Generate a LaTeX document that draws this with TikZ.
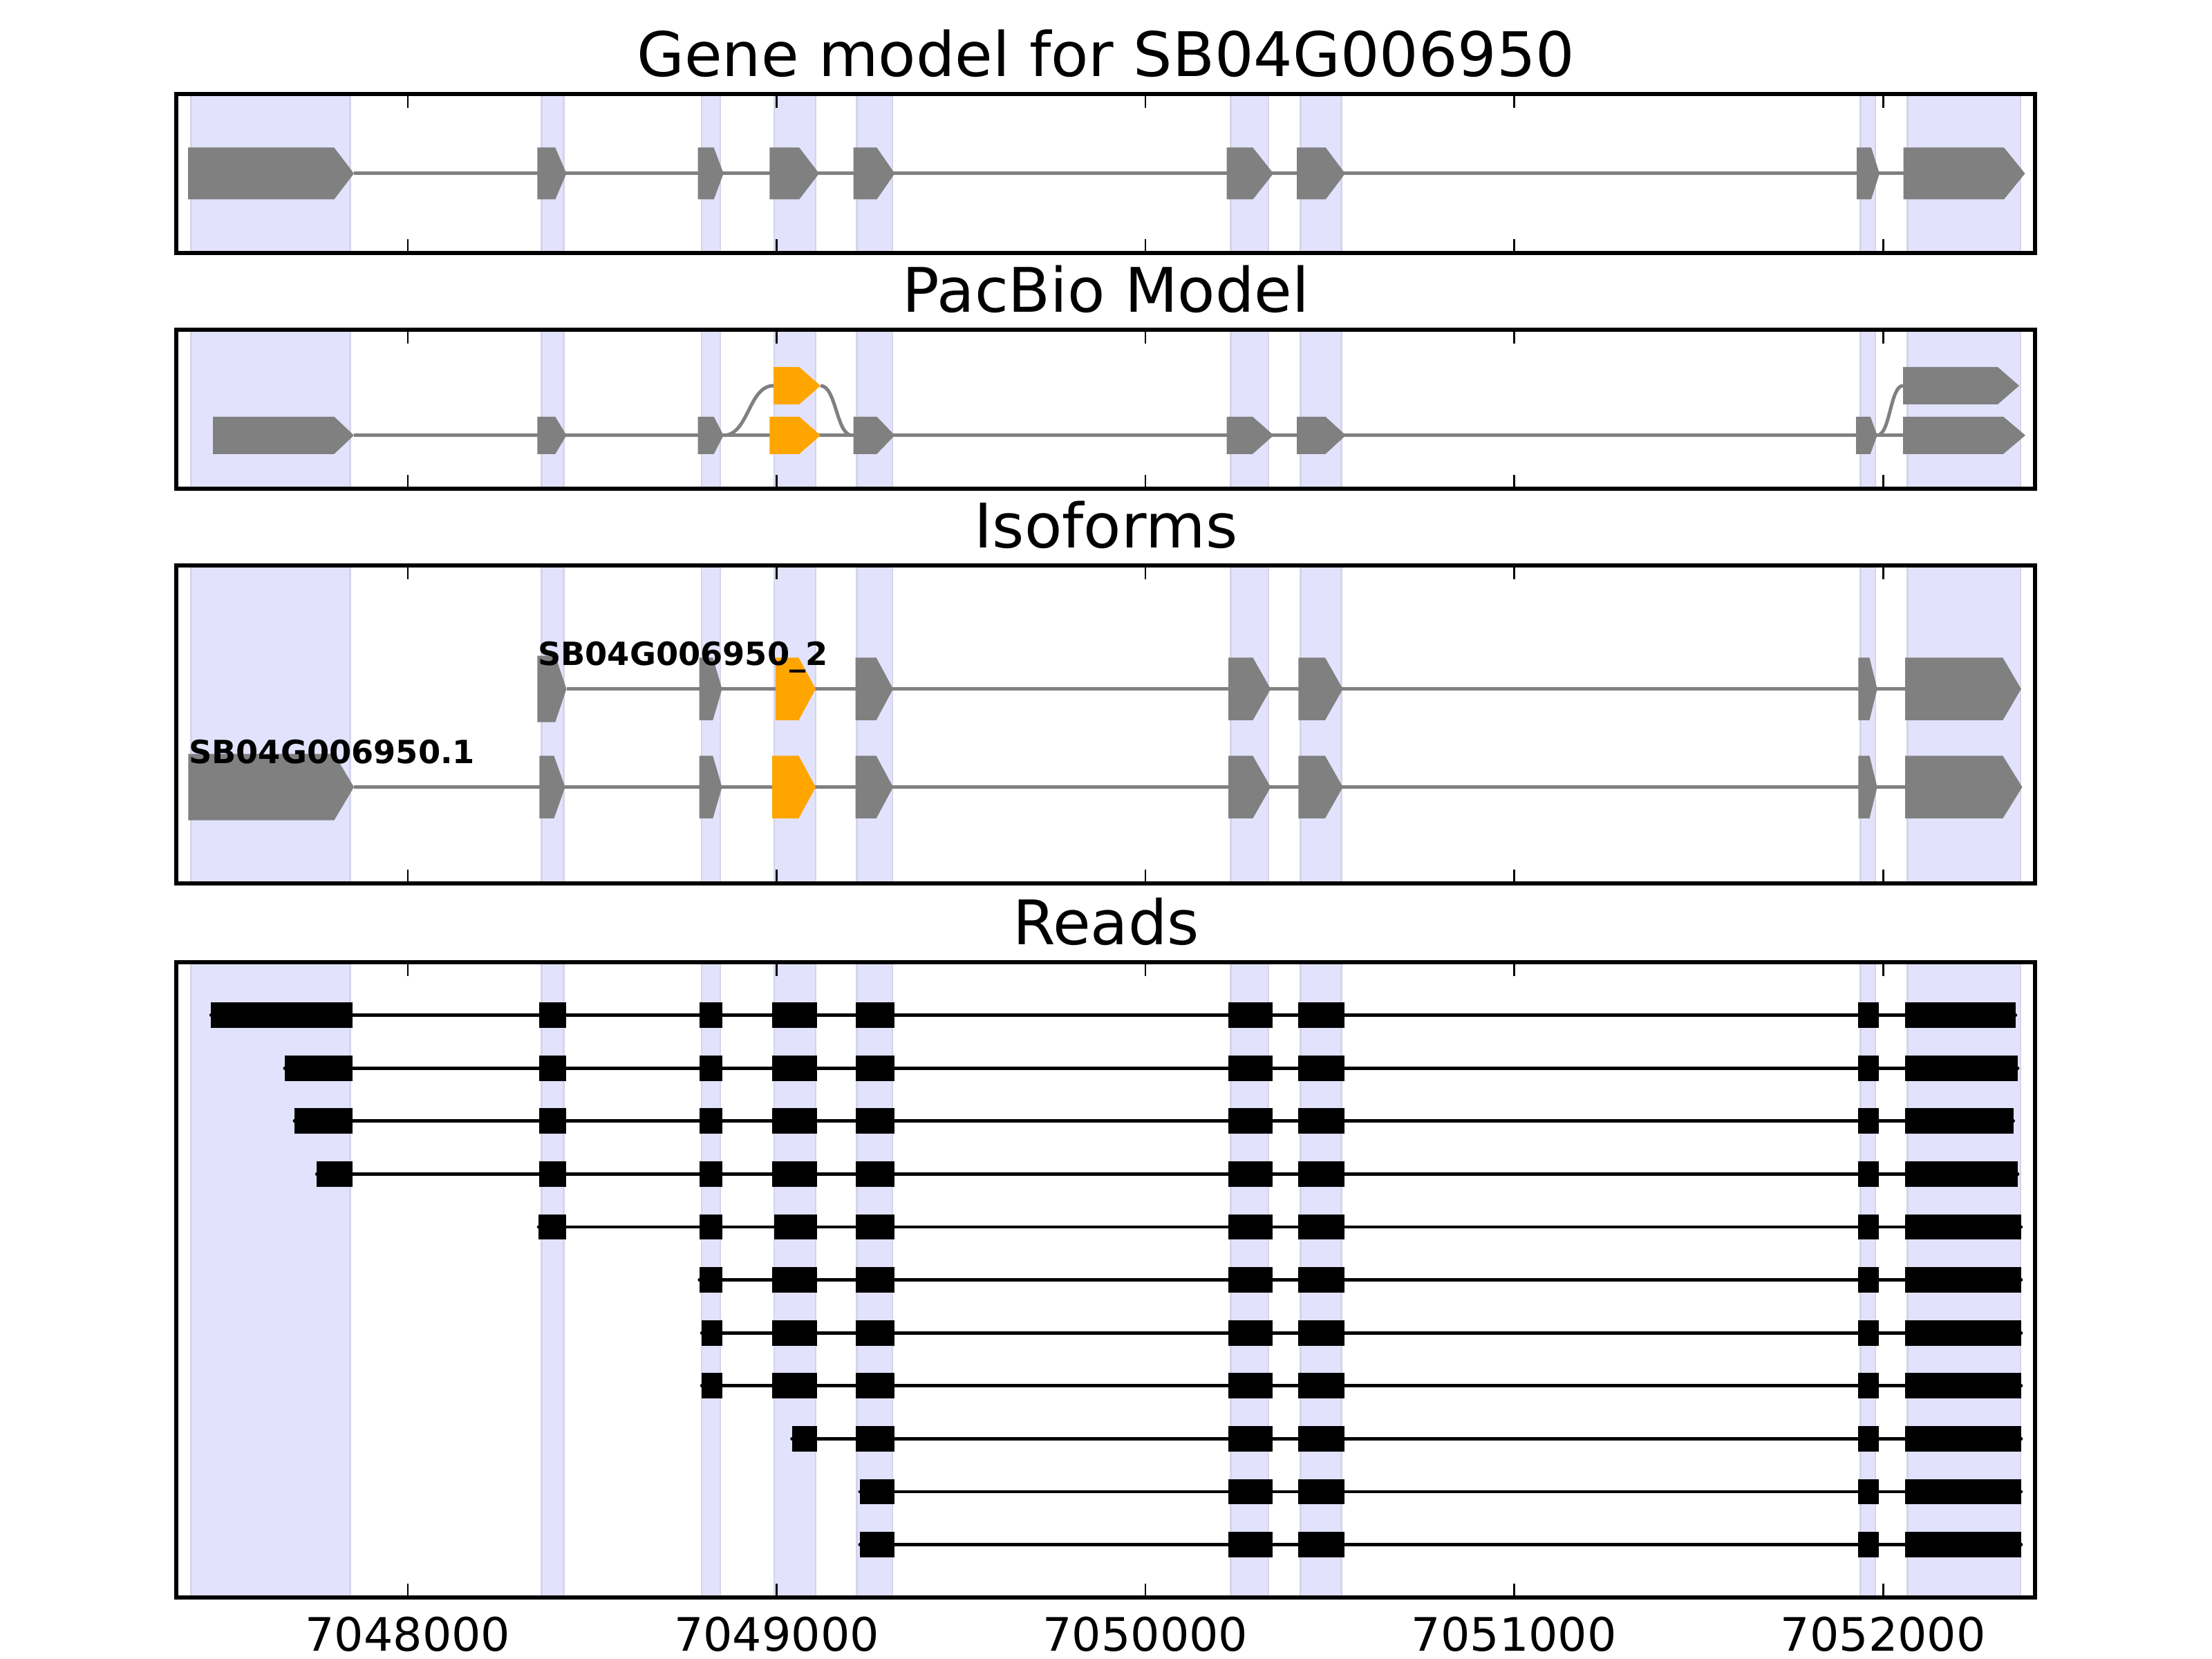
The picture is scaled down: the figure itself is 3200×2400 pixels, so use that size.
\documentclass[tikz,border=0pt]{standalone}
\usepackage{fontspec}
\setmainfont{DejaVu Sans}
\definecolor{bandfill}{RGB}{226,226,252}
\definecolor{bandedge}{RGB}{212,212,234}
\definecolor{exgray}{RGB}{128,128,128}
\definecolor{exorange}{RGB}{255,165,0}
\newcommand\exon[6][exgray]{\fill[#1] (#2,{#5-#6}) -- (#3,{#5-#6}) -- (#4,#5) -- (#3,{#5+#6}) -- (#2,{#5+#6}) -- cycle;}
\newcommand\bands[2]{\foreach \a/\b in {276.5/506.6, 783.7/815.2, 1015/1042, 1120/1180, 1239.6/1290.9, 1780.4/1835, 1881.6/1940.5, 2691.7/2713, 2759.7/2923}{\filldraw[band] (\a,#1) rectangle (\b,#2);}}
\newcommand\frameticks[2]{\draw[frame] (255,#1) rectangle (2944,#2);
 \foreach \t in {590,1123.5,1657,2190.3,2724.3}{\draw[tick] (\t,#1) -- ++(0,20); \draw[tick] (\t,#2) -- ++(0,-20);}}
\newcommand\readrow[4]{\draw[readline] (#2,#1) -- (#3,#1);
 \foreach \a/\b in {#4}{\fill (\a,{#1-18.4}) rectangle (\b,{#1+18.4});}}
\begin{document}
\begin{tikzpicture}[x=0.18bp,y=-0.18bp,
  band/.style={fill=bandfill,draw=bandedge,line width=0.5bp},
  frame/.style={draw=black,line width=1bp},
  tick/.style={draw=black,line width=0.5bp},
  intron/.style={draw=exgray,line width=0.9bp},
  readline/.style={draw=black,line width=0.85bp,line cap=round},
  ttl/.style={inner sep=0pt,anchor=base,font=\fontsize{16bp}{19bp}\selectfont},
  ticklab/.style={inner sep=0pt,anchor=north,font=\fontsize{12bp}{14bp}\selectfont},
  isolab/.style={inner sep=0pt,anchor=base west,font=\fontsize{8.33bp}{10bp}\selectfont\bfseries}]
\useasboundingbox (0,0) rectangle (3200,2400);
\fill[white] (0,0) rectangle (3200,2400);

% ---------------- Panel 1: gene model
\node[ttl] (title1) at (1600,111) {Gene model for SB04G006950};
\bands{136}{366}
\draw[intron] (512,251) -- (2753.5,251);
\exon{272}{483.4}{512}{251}{37.5}
\exon{777.4}{803.3}{819.5}{251}{37.5}
\exon{1009.6}{1032.7}{1046.7}{251}{37.5}
\exon{1113.4}{1156.2}{1185}{251}{37.5}
\exon{1234.7}{1268.4}{1294.4}{251}{37.5}
\exon{1774.7}{1812.5}{1842.2}{251}{37.5}
\exon{1876}{1917.8}{1946}{251}{37.5}
\exon{2686}{2707}{2719}{251}{37.5}
\exon{2753.5}{2899}{2929.5}{251}{37.5}
\frameticks{136}{366}

% ---------------- Panel 2: PacBio model
\node[ttl] (title2) at (1600,452) {PacBio Model};
\bands{477}{707}
\draw[intron] (512,629.8) -- (2753,629.8);
\draw[intron] (1046.7,629.8) .. controls (1082.9,629.8) and (1082.9,558) .. (1119,558);
\draw[intron] (1187,558) .. controls (1209.8,558) and (1209.8,629.8) .. (1232.6,629.8);
\draw[intron] (2715.7,629.8) .. controls (2734.4,629.8) and (2734.4,558) .. (2753,558);
\exon{308}{483.4}{512}{629.8}{27}
\exon{777.4}{803.3}{819.5}{629.8}{27}
\exon{1009.6}{1032.7}{1046.7}{629.8}{27}
\exon[exorange]{1113.4}{1156.2}{1187}{629.8}{27}
\exon[exorange]{1119}{1156.2}{1187}{558}{27}
\exon{1234.7}{1268.4}{1294.4}{629.8}{27}
\exon{1774.6}{1812}{1842.6}{629.8}{27}
\exon{1876}{1917.5}{1947}{629.8}{27}
\exon{2685}{2705.8}{2715.7}{629.8}{27}
\exon{2753}{2898}{2930}{629.8}{27}
\exon{2753}{2890}{2921}{558}{27}
\frameticks{477}{707}

% ---------------- Panel 3: isoforms
\node[ttl] (title3) at (1600,793) {Isoforms};
\bands{818}{1278}
% upper isoform
\draw[intron] (819.5,996.7) -- (2756,996.7);
\exon{777.4}{803.3}{819.5}{996.7}{48}
\exon{1011.7}{1031.3}{1044.5}{996.7}{45.2}
\exon[exorange]{1121.8}{1155.5}{1180}{996.7}{45.2}
\exon{1237.6}{1267.7}{1292}{996.7}{45.2}
\exon{1777}{1812.5}{1838.2}{996.7}{45.2}
\exon{1878.4}{1917}{1942.7}{996.7}{45.2}
\exon{2688.4}{2704.5}{2715.7}{996.7}{45.2}
\exon{2756}{2897.4}{2923.9}{996.7}{45.2}
% lower isoform
\draw[intron] (512,1138.7) -- (2756,1138.7);
\exon{272.3}{483.4}{512}{1138.7}{48}
\exon{780.3}{801.5}{817.5}{1138.7}{45.2}
\exon{1011.7}{1031.3}{1044.5}{1138.7}{45.2}
\exon[exorange]{1117}{1155.5}{1180}{1138.7}{45.2}
\exon{1237.6}{1267.7}{1292}{1138.7}{45.2}
\exon{1777}{1812.5}{1838.2}{1138.7}{45.2}
\exon{1878.4}{1917}{1942.7}{1138.7}{45.2}
\exon{2688.4}{2704.5}{2715.7}{1138.7}{45.2}
\exon{2756}{2897.4}{2925.5}{1138.7}{45.2}
\node[isolab] (iso2) at (777,963) {SB04G006950\_2};
\node[isolab] (iso1) at (272,1105) {SB04G006950.1};
\frameticks{818}{1278}

% ---------------- Panel 4: reads
\node[ttl] (title4) at (1600,1367) {Reads};
\bands{1392}{2311}
\readrow{1468.6}{305.2}{2915.8}{305.2/510, 780/818.7, 1011.7/1045.3, 1117/1182, 1237.6/1293.7, 1777/1840.6, 1878.4/1945, 2688.4/2718, 2756/2915.8}
\readrow{1545.2}{411.9}{2919}{411.9/510, 780/818.7, 1011.7/1045.3, 1117/1182, 1237.6/1293.7, 1777/1840.6, 1878.4/1945, 2688.4/2718, 2756/2919}
\readrow{1621.8}{425.9}{2912.6}{425.9/510, 780/818.7, 1011.7/1045.3, 1117/1182, 1237.6/1293.7, 1777/1840.6, 1878.4/1945, 2688.4/2718, 2756/2912.6}
\readrow{1698.4}{458.2}{2919}{458.2/510, 780/818.7, 1011.7/1045.3, 1117/1182, 1237.6/1293.7, 1777/1840.6, 1878.4/1945, 2688.4/2718, 2756/2919}
\readrow{1775}{779}{2924}{779/818.7, 1011.7/1045.3, 1120.4/1182, 1237.6/1293.7, 1777/1840.6, 1878.4/1945, 2688.4/2718, 2756/2924}
\readrow{1851.6}{1011.7}{2924}{1011.7/1045.3, 1117/1182, 1237.6/1293.7, 1777/1840.6, 1878.4/1945, 2688.4/2718, 2756/2924}
\readrow{1928.2}{1015.2}{2924}{1015.2/1045.3, 1117/1182, 1237.6/1293.7, 1777/1840.6, 1878.4/1945, 2688.4/2718, 2756/2924}
\readrow{2004.8}{1015.2}{2924}{1015.2/1045.3, 1117/1182, 1237.6/1293.7, 1777/1840.6, 1878.4/1945, 2688.4/2718, 2756/2924}
\readrow{2081.4}{1145.6}{2924}{1145.6/1182, 1237.6/1293.7, 1777/1840.6, 1878.4/1945, 2688.4/2718, 2756/2924}
\readrow{2158}{1243.9}{2924}{1243.9/1293.7, 1777/1840.6, 1878.4/1945, 2688.4/2718, 2756/2924}
\readrow{2234.6}{1243.9}{2924}{1243.9/1293.7, 1777/1840.6, 1878.4/1945, 2688.4/2718, 2756/2924}
\frameticks{1392}{2311}
\node[ticklab] (t1) at (590,2338) {7048000};
\node[ticklab] (t2) at (1123.5,2338) {7049000};
\node[ticklab] (t3) at (1657,2338) {7050000};
\node[ticklab] (t4) at (2190.3,2338) {7051000};
\node[ticklab] (t5) at (2724.3,2338) {7052000};
\end{tikzpicture}
\end{document}
